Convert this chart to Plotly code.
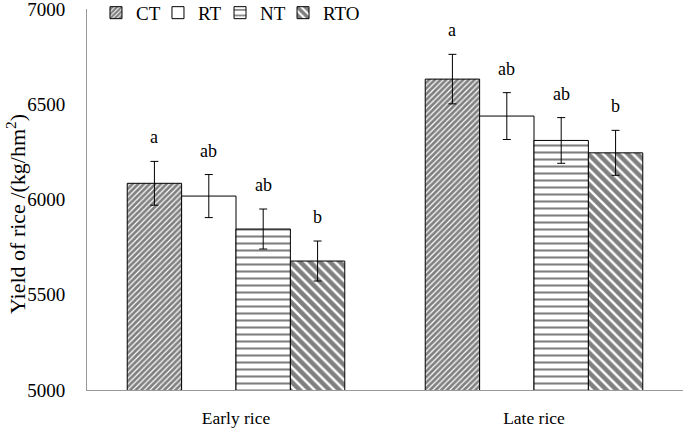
import plotly.graph_objects as go

categories = ["Early rice", "Late rice"]
treatments = ["CT", "RT", "NT", "RTO"]
yields = {
    "CT": [6085, 6632],
    "RT": [6018, 6438],
    "NT": [5845, 6310],
    "RTO": [5677, 6245],
}
errors = {
    "CT": [115, 130],
    "RT": [113, 123],
    "NT": [105, 120],
    "RTO": [105, 118],
}
letters = {
    "CT": ["a", "a"],
    "RT": ["ab", "ab"],
    "NT": ["ab", "ab"],
    "RTO": ["b", "b"],
}

_FONT = "Liberation Serif, Times New Roman, serif"
_PATTERNS = {
    "CT": dict(shape="/", size=4, solidity=0.7, fgcolor="black", bgcolor="white"),
    "RT": dict(shape="", fgcolor="black", bgcolor="white"),
    "NT": dict(shape="-", size=7, solidity=0.3, fgcolor="black", bgcolor="white"),
    "RTO": dict(shape="\\", size=7, solidity=0.65, fgcolor="black", bgcolor="white"),
}
# each legend entry gets its own legend box so the row stays compact
_LEGEND_X = {"CT": 0.0151, "RT": 0.1191, "NT": 0.2232, "RTO": 0.3289}
_LEGEND_ID = {"CT": "legend", "RT": "legend2", "NT": "legend3", "RTO": "legend4"}

fig = go.Figure()
for t in treatments:
    fig.add_trace(
        go.Bar(
            x=categories,
            y=yields[t],
            name=t,
            legend=_LEGEND_ID[t],
            marker=dict(color="white", line=dict(color="black", width=1), pattern=_PATTERNS[t]),
            error_y=dict(type="data", array=errors[t], color="black", thickness=1, width=4),
        )
    )

# significance letters above error bars
n = len(treatments)
group_w = 1 - 0.27
for i, t in enumerate(treatments):
    offset = -group_w / 2 + group_w / n * (i + 0.5)
    for j, c in enumerate(categories):
        fig.add_annotation(
            x=j + offset,
            y=yields[t][j] + errors[t][j],
            text=letters[t][j],
            showarrow=False,
            yanchor="bottom",
            yshift=12,
            font=dict(family=_FONT, size=18, color="black"),
        )

# y title as a rotated annotation so it sits exactly left of the tick labels
fig.add_annotation(
    text="Yield of rice /(kg/hm<sup>2</sup>)",
    xref="paper",
    yref="paper",
    x=-0.12,
    y=0.463,
    xanchor="center",
    yanchor="middle",
    textangle=-90,
    showarrow=False,
    font=dict(family=_FONT, size=22, color="black"),
)

legend_style = dict(
    orientation="h",
    xanchor="left",
    yanchor="middle",
    y=0.99,
    font=dict(family=_FONT, size=19, color="black"),
    itemwidth=30,
    bgcolor="rgba(0,0,0,0)",
)
fig.update_layout(
    width=685,
    height=433,
    barmode="group",
    bargap=0.27,
    bargroupgap=0,
    plot_bgcolor="white",
    paper_bgcolor="white",
    font=dict(family=_FONT, size=18, color="black"),
    margin=dict(l=87, r=2, t=9, b=43, autoexpand=False),
    showlegend=True,
    legend=dict(x=_LEGEND_X["CT"], **legend_style),
    legend2=dict(x=_LEGEND_X["RT"], **legend_style),
    legend3=dict(x=_LEGEND_X["NT"], **legend_style),
    legend4=dict(x=_LEGEND_X["RTO"], **legend_style),
    xaxis=dict(
        showline=True,
        linecolor="#999999",
        linewidth=1,
        ticks="",
        tickfont=dict(size=17.5),
        ticklabelstandoff=12,
        range=[-0.5, 1.5],
        automargin=False,
    ),
    yaxis=dict(
        range=[5000, 7000],
        dtick=500,
        showgrid=False,
        showline=True,
        linecolor="#999999",
        linewidth=1,
        ticks="",
        tickfont=dict(size=19),
        ticklabelstandoff=17,
        ticklabeloverflow="allow",
        zeroline=False,
        automargin=False,
    ),
)

# drop the default 8px body margin so the figure sits at the page corner
fig.write_html(
    "out.html",
    config={"displayModeBar": False},
    post_script="document.body.style.margin = '0';",
)
